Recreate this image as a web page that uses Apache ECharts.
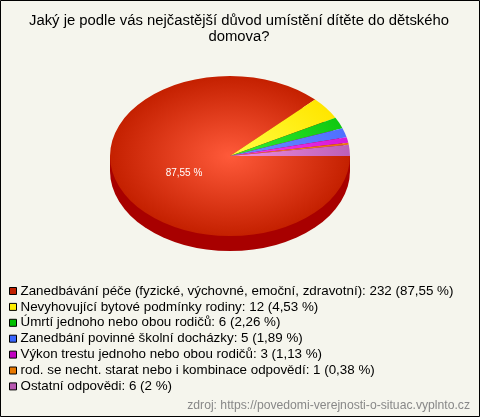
<!DOCTYPE html>
<html><head><meta charset="utf-8">
<style>html,body{margin:0;padding:0;background:#f5f5ed}#c{width:480px;height:417px}</style>
<script src="https://cdn.jsdelivr.net/npm/echarts@6/dist/echarts.min.js"></script>
</head><body><div id="c"></div>
<script>
const categories = [
 "Zanedbávání péče (fyzické, výchovné, emoční, zdravotní): 232 (87,55 %)",
 "Nevyhovující bytové podmínky rodiny: 12 (4,53 %)",
 "Úmrtí jednoho nebo obou rodičů: 6 (2,26 %)",
 "Zanedbání povinné školní docházky: 5 (1,89 %)",
 "Výkon trestu jednoho nebo obou rodičů: 3 (1,13 %)",
 "rod. se necht. starat nebo i kombinace odpovědí: 1 (0,38 %)",
 "Ostatní odpovědi: 6 (2 %)"
];
const values = [232,12,6,5,3,1,6];
const legendColors = ["#c02000","#ffee00","#00c000","#3a66ff","#c000c0","#e87800","#b858b0"];
const centerColors = ["#ff5a3a","#ffff44","#33f033","#6a8cff","#f040f0","#ff9030","#f090e0"];
const edgeColors   = ["#c42000","#ffe600","#10c810","#4f70ff","#d818d8","#e87010","#bc60b8"];
const title = "Jaký je podle vás nejčastější důvod umístění dítěte do dětského\ndomova?";
const source = "zdroj: https://povedomi-verejnosti-o-situac.vyplnto.cz";
const sliceLabel = "87,55 %";

const cx=230, cy=156, rx=120, ry=80, depth=15;
const total = values.reduce((a,b)=>a+b,0);
const chart = echarts.init(document.getElementById('c'),null,{renderer:'canvas'});
let acc=0;
const series = values.map((v,i)=>{
  const start = acc/total*Math.PI*2; acc+=v; const end = acc/total*Math.PI*2;
  return {
    type:'custom', name:categories[i], coordinateSystem:'none', silent:true, animation:false,
    z: 2, itemStyle:{color:legendColors[i]}, data:[[v]],
    renderItem:()=>{
      const children=[];
      const sy = ry/rx;
      if(i===0){
        children.push({type:'circle',x:cx,y:cy+depth,scaleY:sy,shape:{cx:0,cy:0,r:rx},style:{fill:'#a80000'}});
        children.push({type:'rect',shape:{x:cx-rx,y:cy,width:rx*2,height:depth},style:{fill:'#a80000'}});
      }
      children.push({type:'sector',x:cx,y:cy,scaleY:sy,
        shape:{cx:0,cy:0,r0:0,r:rx,startAngle:start,endAngle:end,clockwise:true},
        style:{fill:new echarts.graphic.RadialGradient(0,0,rx,[{offset:0,color:centerColors[i]},{offset:1,color:edgeColors[i]}],true),stroke:null}});
      if(i===0){
        children.push({type:'text',x:184,y:173,z2:10,style:{text:sliceLabel,fill:'#fff',font:'10px "Liberation Sans"',align:'center',verticalAlign:'middle'}});
      }
      return {type:'group',children};
    }
  };
});
chart.setOption({
  animation:false,
  backgroundColor:'#f5f5ed',
  title:{text:title,left:234,textAlign:'center',top:8,textStyle:{fontFamily:'Liberation Sans',fontSize:14.85,fontWeight:'normal',color:'#000',lineHeight:16}},
  legend:{orient:'vertical',left:9,top:284,padding:[0,0,0,0],itemWidth:7,itemHeight:7,itemGap:1.9,icon:'rect',selectedMode:false,
    textStyle:{fontFamily:'Liberation Sans',fontSize:13.36,color:'#000',lineHeight:14,padding:[0,0,0,-1]},
    data:categories.map((n,i)=>({name:n,icon:'rect',itemStyle:{color:legendColors[i],borderColor:'#000',borderWidth:1}}))},
  graphic:[
    {type:'rect',z:-1,shape:{x:0.5,y:0.5,width:479,height:416},style:{fill:'none',stroke:'#000',lineWidth:1}},
    {type:'text',right:10,top:400,style:{text:source,fill:'#888',font:'12.18px "Liberation Sans"'}}
  ],
  series
});
</script></body></html>
